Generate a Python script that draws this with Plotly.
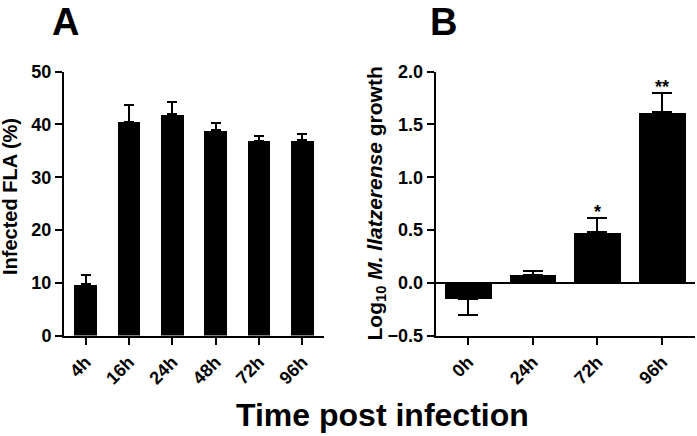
import plotly.graph_objects as go

# ---- Data ----
cats_a = ["4h", "16h", "24h", "48h", "72h", "96h"]
vals_a = [9.7, 40.5, 41.9, 38.9, 36.9, 37.0]
err_a = [1.7, 3.2, 2.3, 1.3, 0.9, 1.2]

cats_b = ["0h", "24h", "72h", "96h"]
vals_b = [-0.15, 0.073, 0.479, 1.616]
err_b_up = [0.0, 0.035, 0.135, 0.185]
err_b_down = [0.16, 0.0, 0.0, 0.0]
sig_b = ["", "", "*", "**"]

yticks_a = [0, 10, 20, 30, 40, 50]
yticks_b = [-0.5, 0.0, 0.5, 1.0, 1.5, 2.0]

FONT = "Liberation Sans, Arial, sans-serif"
W, H = 697, 436

fig = go.Figure()
fig.add_trace(go.Bar(
    x=cats_a, y=vals_a, width=0.52, marker=dict(color="black", line=dict(width=0)),
    error_y=dict(type="data", array=err_a, arrayminus=[0] * len(err_a), symmetric=False,
                 color="black", thickness=2, width=5),
    xaxis="x", yaxis="y", showlegend=False))
fig.add_trace(go.Bar(
    x=cats_b, y=vals_b, width=0.72, marker=dict(color="black", line=dict(width=0)),
    error_y=dict(type="data", array=err_b_up, arrayminus=err_b_down, symmetric=False,
                 color="black", thickness=2, width=10),
    xaxis="x2", yaxis="y2", showlegend=False))

tickfont = dict(family=FONT, size=18, color="black", weight="bold")
ax_common = dict(showline=True, linewidth=2, linecolor="black", ticks="outside",
                 ticklen=7, tickwidth=2, tickcolor="black", tickfont=tickfont,
                 showgrid=False, zeroline=False, automargin=False)

y0 = 1 - 335.5 / H
y1 = 1 - 71.7 / H
fig.update_layout(
    width=W, height=H, margin=dict(l=0, r=0, t=0, b=0), autosize=False,
    paper_bgcolor="white", plot_bgcolor="white",
    font=dict(family=FONT, color="black"),
    xaxis=dict(domain=[64 / W, 324 / W], anchor="y", type="category",
               range=[-0.5, 5.5], tickangle=-45, **ax_common),
    yaxis=dict(domain=[y0, y1], anchor="x", range=[0, 50], tickvals=yticks_a, **ax_common),
    xaxis2=dict(domain=[435.7 / W, 694.5 / W], anchor="y2", type="category",
                range=[-0.5, 3.5], tickangle=-45, **ax_common),
    yaxis2=dict(domain=[y0, y1], anchor="x2", range=[-0.5, 2.0], tickvals=yticks_b,
                tickformat=".1f", **{**ax_common, "zeroline": True},
                zerolinecolor="black", zerolinewidth=2),
    bargap=0,
)

ann = []
for c, v, e, s in zip(cats_b, vals_b, err_b_up, sig_b):
    if s:
        ann.append(dict(x=c, y=v + e, xref="x2", yref="y2", text=s, showarrow=False,
                        yanchor="bottom", yshift=-6,
                        font=dict(family=FONT, size=18, color="black", weight="bold")))
ann += [
    dict(x=10 / W, y=1 - 197 / H, xref="paper", yref="paper", text="Infected FLA (%)",
         textangle=-90, showarrow=False, xanchor="center", yanchor="middle",
         font=dict(family=FONT, size=20, color="black", weight="bold")),
    dict(x=375 / W, y=1 - 203.5 / H, xref="paper", yref="paper",
         text="Log<sub>10</sub> <i>M. llatzerense</i> growth",
         textangle=-90, showarrow=False, xanchor="center", yanchor="middle",
         font=dict(family=FONT, size=21, color="black", weight="bold")),
    dict(x=382 / W, y=1 - 415 / H, xref="paper", yref="paper", text="Time post infection",
         showarrow=False, xanchor="center", yanchor="middle",
         font=dict(family=FONT, size=32, color="black", weight="bold")),
    dict(x=65 / W, y=1 - 22 / H, xref="paper", yref="paper", text="A",
         showarrow=False, xanchor="center", yanchor="middle",
         font=dict(family=FONT, size=38, color="black", weight="bold")),
    dict(x=443 / W, y=1 - 22 / H, xref="paper", yref="paper", text="B",
         showarrow=False, xanchor="center", yanchor="middle",
         font=dict(family=FONT, size=38, color="black", weight="bold")),
]
fig.update_layout(annotations=ann)

fig.write_html("out.html", config={"displayModeBar": False},
               post_script="document.body.style.margin='0';")
